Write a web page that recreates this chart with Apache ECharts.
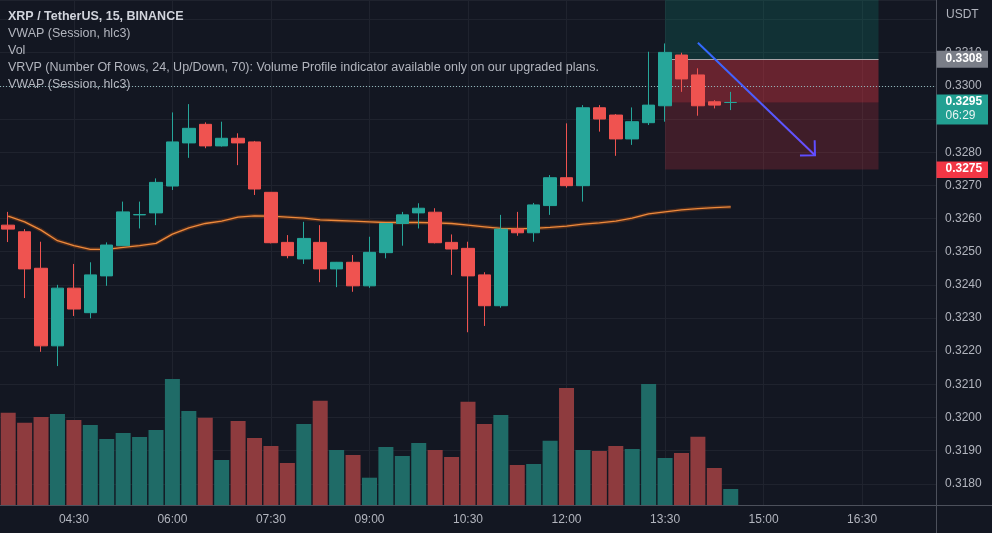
<!DOCTYPE html>
<html><head><meta charset="utf-8">
<script src="https://cdn.jsdelivr.net/npm/echarts@6/dist/echarts.min.js"></script>
<style>html,body{margin:0;padding:0;background:#131722;}#c{width:992px;height:533px;}</style>
</head><body><div id="c"></div>
<script>
// ---- data ----
const categories = ['03:30','03:45','04:00','04:15','04:30','04:45','05:00','05:15','05:30','05:45',
'06:00','06:15','06:30','06:45','07:00','07:15','07:30','07:45','08:00','08:15','08:30','08:45',
'09:00','09:15','09:30','09:45','10:00','10:15','10:30','10:45','11:00','11:15','11:30','11:45',
'12:00','12:15','12:30','12:45','13:00','13:15','13:30','13:45','14:00','14:15','14:30','14:45',
'15:00','15:15','15:30','15:45','16:00','16:15','16:30','16:45','17:00','17:15','17:30'];
const xTickLabels = ['04:30','06:00','07:30','09:00','10:30','12:00','13:30','15:00','16:30'];
const opens = [0.32580,0.32560,0.32450,0.32216,0.32390,0.32316,0.32427,0.32518,0.32611,0.32617,
 0.32698,0.32828,0.32884,0.32819,0.32842,0.32831,0.32679,0.32528,0.32478,0.32528,
 0.32448,0.32468,0.32397,0.32497,0.32585,0.32617,0.32619,0.32528,0.32510,0.32430,
 0.32337,0.32568,0.32557,0.32639,0.32723,0.32699,0.32934,0.32912,0.32840,0.32889,
 0.32940,0.33093,0.33033,0.32952,0.32950];
const closes = [0.32568,0.32448,0.32216,0.32390,0.32327,0.32430,0.32520,0.32620,0.32612,0.32709,
 0.32831,0.32872,0.32819,0.32842,0.32828,0.32689,0.32527,0.32488,0.32540,0.32448,
 0.32468,0.32397,0.32498,0.32585,0.32611,0.32631,0.32527,0.32508,0.32427,0.32337,
 0.32568,0.32557,0.32641,0.32723,0.32699,0.32934,0.32900,0.32840,0.32892,0.32942,
 0.33101,0.33021,0.32940,0.32942,0.32950];
const lows = [0.32529,0.32360,0.32198,0.32155,0.32306,0.32299,0.32397,0.32517,0.32570,0.32580,
 0.32686,0.32783,0.32812,0.32817,0.32761,0.32671,0.32525,0.32480,0.32463,0.32408,
 0.32393,0.32379,0.32391,0.32480,0.32518,0.32570,0.32525,0.32430,0.32257,0.32276,
 0.32331,0.32548,0.32530,0.32611,0.32693,0.32651,0.32862,0.32789,0.32822,0.32882,
 0.32892,0.32982,0.32910,0.32932,0.32927];
const highs = [0.32620,0.32568,0.32530,0.32400,0.32463,0.32468,0.32528,0.32651,0.32651,0.32721,
 0.32920,0.32945,0.32890,0.32892,0.32857,0.32834,0.32680,0.32550,0.32590,0.32580,
 0.32469,0.32490,0.32545,0.32586,0.32620,0.32646,0.32631,0.32552,0.32530,0.32438,
 0.32611,0.32620,0.32647,0.32731,0.32887,0.32942,0.32942,0.32915,0.32935,0.33103,
 0.33128,0.33100,0.33053,0.32957,0.32982];
const volumes = [923,823,880,910,850,800,660,720,680,750,1260,940,873,450,840,670,590,420,810,1043,
 550,500,273,580,490,620,550,480,1033,810,900,400,410,643,1170,550,540,590,560,1210,470,520,683,370,160];
const vwap = [0.32607,0.32590,0.32565,0.32533,0.32518,0.32507,0.32507,0.32513,0.32518,0.32525,
 0.32553,0.32572,0.32585,0.32592,0.32604,0.32608,0.32607,0.32604,0.32601,0.32596,
 0.32594,0.32592,0.32590,0.32588,0.32588,0.32588,0.32587,0.32585,0.32580,0.32575,
 0.32570,0.32569,0.32570,0.32573,0.32577,0.32583,0.32587,0.32592,0.32601,0.32614,
 0.32620,0.32626,0.32630,0.32633,0.32635];
const entryPrice = 0.3308, stopPrice = 0.32748, lastPrice = 0.3295;
const priceTags = ['0.3308','0.3295','0.3275'];
const countdown = '06:29';
const boxStart = '13:30', boxEnd = '16:45';
const arrowFrom = [42.0, 0.33130], arrowTo = [49.13, 0.32791];
const legendLines = ['XRP / TetherUS, 15, BINANCE','VWAP (Session, hlc3)','Vol',
 'VRVP (Number Of Rows, 24, Up/Down, 70): Volume Profile indicator available only on our upgraded plans.',
 'VWAP (Session, hlc3)'];
const yMin = 0.31736, yMax = 0.33259, yLabelMax = 0.3315, volMax = 5050;

// ---- build ----
const FONT = 'Liberation Sans, Arial, sans-serif';
const UP = '#26a69a', DOWN = '#ef5350', VUP = '#1f6b67', VDOWN = '#8e3b3e';
const GRIDC = '#1f232e', AXC = '#4c505b', TXT = '#b2b5be';
function isUp(i){ if (closes[i] > opens[i]) return true; if (closes[i] < opens[i]) return false; return i > 0 ? closes[i-1] <= closes[i] : true; }
const ohlc = opens.map((o,i)=>[o, closes[i], lows[i], highs[i]]);
const volData = volumes.map((v,i)=>({value:v, itemStyle:{color: isUp(i)?VUP:VDOWN}}));

const chart = echarts.init(document.getElementById('c'), null, {renderer:'canvas'});
chart.setOption({
  animation:false,
  backgroundColor:'#131722',
  grid:{left:0, right:56, top:0, bottom:28},
  xAxis:{type:'category', data:categories, boundaryGap:true,
    axisLine:{lineStyle:{color:AXC}}, axisTick:{show:false}, splitLine:{show:false},
    axisLabel:{interval:(i,v)=>xTickLabels.includes(v), color:TXT, fontSize:12, fontFamily:FONT, margin:9}},
  yAxis:[{type:'value', position:'right', min:yMin, max:yMax, splitNumber:15, minInterval:0.001, maxInterval:0.001,
    axisLine:{show:true, lineStyle:{color:AXC}}, axisTick:{show:false},
    axisLabel:{formatter:v=>(v > yLabelMax ? '' : v.toFixed(4)), showMinLabel:false, showMaxLabel:false, color:TXT, fontSize:12, fontFamily:FONT, margin:9},
    splitLine:{lineStyle:{color:GRIDC}}},
   {type:'value', min:0, max:volMax, show:false, splitLine:{show:false}}],
  series:[
    {type:'line', name:'grid', data:closes, showSymbol:false, lineStyle:{opacity:0}, silent:true, z:0,
      markLine:{silent:true, z:0, symbol:['none','none'], label:{show:false},
        data:xTickLabels.map(t=>({xAxis:t, lineStyle:{color:GRIDC, type:'solid', width:1}}))}},
    {type:'line', name:'zones', data:closes, showSymbol:false, lineStyle:{opacity:0}, silent:true, z:1,
      markArea:{silent:true, z:1, label:{show:false}, data:[
        [{coord:[boxStart, yMax], itemStyle:{color:'rgba(8,153,129,0.2)'}},{coord:[boxEnd, entryPrice]}],
        [{coord:[boxStart, entryPrice], itemStyle:{color:'rgba(242,54,69,0.38)'}},{coord:[boxEnd, lastPrice]}],
        [{coord:[boxStart, lastPrice], itemStyle:{color:'rgba(242,54,69,0.2)'}},{coord:[boxEnd, stopPrice]}]
      ]},
      markLine:{silent:true, z:1.5, symbol:['none','none'], label:{show:false}, data:[
        [{coord:[boxStart, entryPrice], lineStyle:{color:'#a8a4a8', type:'solid', width:1}},{coord:[boxEnd, entryPrice]}],
        {yAxis:lastPrice, lineStyle:{color:'#8fb4b8', type:[1,2], width:1}}
      ]}},
    {type:'bar', name:'Vol', yAxisIndex:1, data:volData, barWidth:15, z:2, silent:true},
    {type:'line', name:'VWAP2', data:vwap, showSymbol:false, lineStyle:{color:'#4a2a1c', width:4}, z:3, silent:true},
    {type:'line', name:'VWAP', data:vwap, showSymbol:false, lineStyle:{color:'#ee8a3c', width:1.3}, z:3, silent:true},
    {type:'candlestick', name:'XRP', data:ohlc, barWidth:13, z:4,
      itemStyle:{color:UP, color0:DOWN, borderColor:UP, borderColor0:DOWN, borderWidth:1}}
  ]
});

function xPix(idx){ const i0 = Math.floor(idx);
  const p0 = chart.convertToPixel({xAxisIndex:0}, categories[i0]);
  const p1 = chart.convertToPixel({xAxisIndex:0}, categories[i0+1]);
  return p0 + (p1-p0)*(idx-i0); }
function yPix(p){ return chart.convertToPixel({yAxisIndex:0}, p); }

const ax = 936.5, tagW = 51.5;
const yE = yPix(entryPrice), yL = yPix(lastPrice), yS = yPix(stopPrice);
const x1 = xPix(arrowFrom[0]), y1 = yPix(arrowFrom[1]), x2 = xPix(arrowTo[0]), y2 = yPix(arrowTo[1]);
const ang = Math.atan2(y2-y1, x2-x1), hl = 15;
const h1 = [x2 - hl*Math.cos(ang - Math.PI/4), y2 - hl*Math.sin(ang - Math.PI/4)];
const h2 = [x2 - hl*Math.cos(ang + Math.PI/4), y2 - hl*Math.sin(ang + Math.PI/4)];
const g = [];
legendLines.forEach((t,i)=>g.push({type:'text', left:8, top:16 + 17*i - 6, z:100,
  style:{text:t, fill: i===0 ? '#d1d4dc' : '#b2b5be', font:(i===0?'bold ':'')+'12.5px '+FONT}}));
g.push({type:'text', left:946, top:9, z:100, style:{text:'USDT', fill:TXT, font:'12px '+FONT}});
g.push({type:'line', z:100, shape:{x1:ax, y1:505, x2:ax, y2:533}, style:{stroke:AXC, lineWidth:1}});
g.push({type:'line', z:100, shape:{x1:ax, y1:505.5, x2:992, y2:505.5}, style:{stroke:AXC, lineWidth:1}});
g.push({type:'line', z:100, shape:{x1:x1, y1:y1, x2:x2, y2:y2},
  style:{stroke:new echarts.graphic.LinearGradient(0,0,1,1,[{offset:0,color:'#2f6bff'},{offset:1,color:'#6e4cff'}]), lineWidth:2}});
g.push({type:'polyline', z:100, shape:{points:[h1,[x2,y2],h2]}, style:{stroke:'#5e4dff', lineWidth:2, fill:null}});
g.push({type:'rect', z:100, shape:{x:ax, y:yE-8.5, width:tagW, height:17}, style:{fill:'#7a7e88'}});
g.push({type:'text', z:101, left:945.5, top:yE-7, style:{text:priceTags[0], fill:'#ffffff', font:'bold 12px '+FONT}});
g.push({type:'rect', z:100, shape:{x:ax, y:yL-8, width:tagW, height:30}, style:{fill:'#22a092'}});
g.push({type:'text', z:101, left:945.5, top:yL-7, style:{text:priceTags[1], fill:'#ffffff', font:'bold 12px '+FONT}});
g.push({type:'text', z:101, left:945.5, top:yL+7.5, style:{text:countdown, fill:'#e8f4f2', font:'12px '+FONT}});
g.push({type:'rect', z:100, shape:{x:ax, y:yS-8, width:tagW, height:16.5}, style:{fill:'#f23645'}});
g.push({type:'text', z:101, left:945.5, top:yS-7, style:{text:priceTags[2], fill:'#ffffff', font:'bold 12px '+FONT}});
chart.setOption({graphic:g});
</script></body></html>
